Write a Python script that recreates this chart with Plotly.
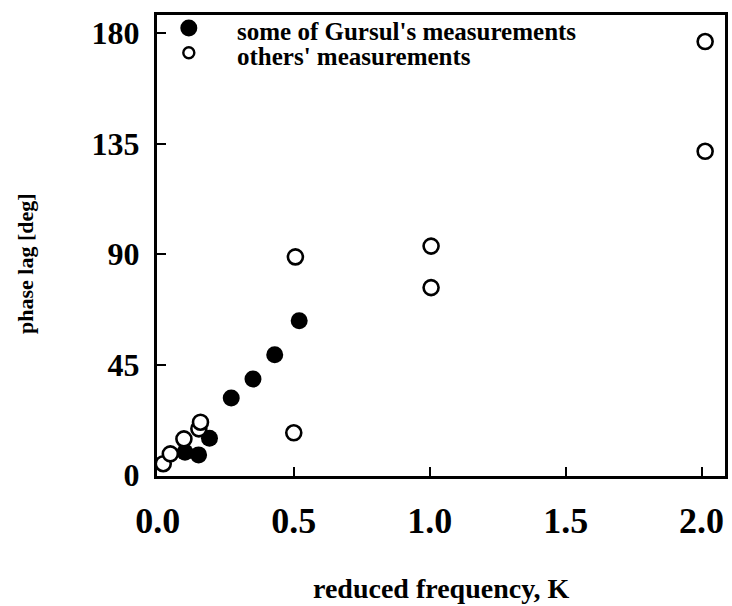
import plotly.graph_objects as go

# Data
gursul_k = [0.10, 0.15, 0.19, 0.27, 0.35, 0.43, 0.52]
gursul_phase = [9.4, 8.3, 15.1, 31.5, 39.2, 49.1, 62.9]

others_k = [0.02, 0.046, 0.096, 0.151, 0.157, 0.50, 0.506, 1.005, 1.005, 2.013, 2.013]
others_phase = [4.7, 8.7, 14.8, 18.9, 21.6, 17.3, 88.9, 93.3, 76.4, 131.9, 176.6]

x_ticks = [0.0, 0.5, 1.0, 1.5, 2.0]
x_ticktext = ["0.0", "0.5", "1.0", "1.5", "2.0"]
y_ticks = [0, 45, 90, 135, 180]
y_ticktext = ["0", "45", "90", "135", "180"]

legend_labels = ["some of Gursul's measurements", "others' measurements"]

FONT = "Liberation Serif"

fig = go.Figure()

fig.add_trace(go.Scatter(
    x=gursul_k, y=gursul_phase, mode="markers",
    marker=dict(size=17, color="black", line=dict(width=0)),
    showlegend=False, cliponaxis=False,
))
fig.add_trace(go.Scatter(
    x=others_k, y=others_phase, mode="markers",
    marker=dict(size=15, color="white", line=dict(width=2.6, color="black")),
    showlegend=False, cliponaxis=False,
))

# Legend symbols on an overlay axis (unit range spanning the plot area)
fig.add_trace(go.Scatter(
    x=[0.056], y=[0.972], mode="markers",
    marker=dict(size=17, color="black", line=dict(width=0)),
    xaxis="x2", yaxis="y2", showlegend=False, cliponaxis=False,
))
fig.add_trace(go.Scatter(
    x=[0.056], y=[0.918], mode="markers",
    marker=dict(size=11, color="white", line=dict(width=2.4, color="black")),
    xaxis="x2", yaxis="y2", showlegend=False, cliponaxis=False,
))

axis_common = dict(
    showline=True, linewidth=3, linecolor="black", mirror=True,
    ticks="inside", ticklen=9, tickwidth=2, tickcolor="black",
    showgrid=False, zeroline=False,
)

fig.update_layout(
    width=732, height=606,
    margin=dict(l=157, r=4, t=15, b=130),
    paper_bgcolor="white", plot_bgcolor="white",
    xaxis=dict(range=[-0.003, 2.086], tickvals=x_ticks, ticktext=x_ticktext,
               ticklabelstandoff=11,
               tickfont=dict(family=FONT, size=36, color="black", weight="bold"),
               **axis_common),
    yaxis=dict(range=[-0.3, 187.4], tickvals=y_ticks, ticktext=y_ticktext,
               ticklabelstandoff=8,
               tickfont=dict(family=FONT, size=32, color="black", weight="bold"),
               **axis_common),
    xaxis2=dict(range=[0, 1], overlaying="x", visible=False, fixedrange=True),
    yaxis2=dict(range=[0, 1], overlaying="y", visible=False, fixedrange=True),
    showlegend=False,
)

leg_font = dict(family=FONT, size=25, color="black", weight="bold")
annotations = [
    dict(text=legend_labels[0], xref="paper", yref="paper", x=0.1384, y=0.965,
         xanchor="left", yanchor="middle", showarrow=False, borderpad=0,
         font=leg_font),
    dict(text=legend_labels[1], xref="paper", yref="paper", x=0.1384, y=0.910,
         xanchor="left", yanchor="middle", showarrow=False, borderpad=0,
         font=leg_font),
    dict(text="reduced frequency, K", xref="paper", yref="paper", x=0.5, y=0,
         xanchor="center", yanchor="middle", yshift=-112, showarrow=False,
         font=dict(family=FONT, size=28, color="black", weight="bold")),
    dict(text="phase lag [deg]", xref="paper", yref="paper", x=0, y=0.46,
         xanchor="center", yanchor="middle", xshift=-131, textangle=-90,
         showarrow=False,
         font=dict(family=FONT, size=22, color="black", weight="bold")),
]
fig.update_layout(annotations=annotations)

fig.write_html("out.html")
